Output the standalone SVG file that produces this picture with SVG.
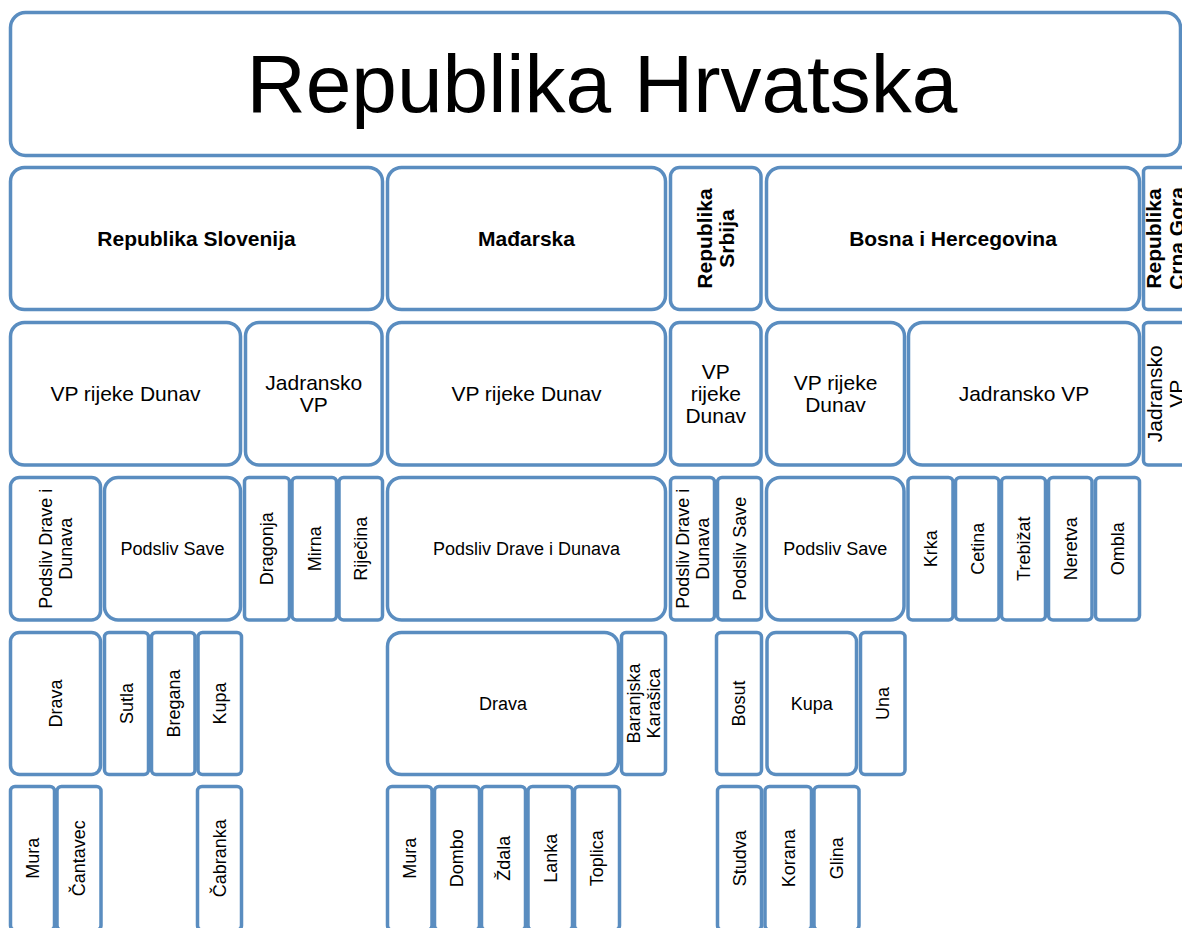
<svg xmlns="http://www.w3.org/2000/svg" width="1182" height="928" viewBox="0 0 1182 928">
<style>
rect{fill:#fff;stroke:#5a8dc0;stroke-width:3.5}
text{font-family:"Liberation Sans",Arial,sans-serif;fill:#000;text-anchor:middle}
.c{font-size:21px;font-weight:bold}
.m{font-size:21px}
.s{font-size:18px}
</style>
<rect width="1182" height="928" style="fill:#fff;stroke:none"/>
<g id="connectors"/>
<g id="hrvatska"><rect x="10.5" y="12.5" width="1170" height="143" rx="15"/><text x="602" y="112" style="font-size:82px">Republika Hrvatska</text></g>
<!-- Row 2 -->
<g id="slovenija"><rect x="10.5" y="167.5" width="372" height="142" rx="14"/><text class="c" x="196.5" y="246">Republika Slovenija</text></g>
<g id="madarska"><rect x="387.5" y="167.5" width="278" height="142" rx="14"/><text class="c" x="526.5" y="246">Mađarska</text></g>
<g id="srbija"><rect x="670.5" y="167.5" width="90.5" height="142" rx="9"/><text class="c" transform="translate(715.75,238.5) rotate(-90)"><tspan x="0" y="-4">Republika</tspan><tspan x="0" y="18.5">Srbija</tspan></text></g>
<g id="bih"><rect x="766.5" y="167.5" width="373" height="142" rx="14"/><text class="c" x="953" y="246">Bosna i Hercegovina</text></g>
<g id="crnagora"><rect x="1143.5" y="167.5" width="43.5" height="142" rx="4.5"/><text class="c" transform="translate(1165.25,238.5) rotate(-90)"><tspan x="0" y="-4">Republika</tspan><tspan x="0" y="18.5">Crna Gora</tspan></text></g>
<!-- Row 3 -->
<g id="slo-dunav"><rect x="10.5" y="322.5" width="230" height="142.5" rx="14"/><text class="m" x="125.5" y="401.25">VP rijeke Dunav</text></g>
<g id="slo-jadran"><rect x="245.5" y="322.5" width="136.5" height="142.5" rx="13.5"/><text class="m"><tspan x="313.75" y="390.25">Jadransko</tspan><tspan x="313.75" y="412.25">VP</tspan></text></g>
<g id="hu-dunav"><rect x="387.5" y="322.5" width="278" height="142.5" rx="14"/><text class="m" x="526.5" y="401.25">VP rijeke Dunav</text></g>
<g id="srb-dunav"><rect x="670.5" y="322.5" width="90.5" height="142.5" rx="9"/><text class="m"><tspan x="715.75" y="379.25">VP</tspan><tspan x="715.75" y="401.25">rijeke</tspan><tspan x="715.75" y="423.25">Dunav</tspan></text></g>
<g id="bih-dunav"><rect x="766.5" y="322.5" width="138" height="142.5" rx="13.8"/><text class="m"><tspan x="835.5" y="390.25">VP rijeke</tspan><tspan x="835.5" y="412.25">Dunav</tspan></text></g>
<g id="bih-jadran"><rect x="908.5" y="322.5" width="231" height="142.5" rx="14"/><text class="m" x="1024" y="401.25">Jadransko VP</text></g>
<g id="mne-jadran"><rect x="1143.5" y="322.5" width="43.5" height="142.5" rx="4.5"/><text class="m" transform="translate(1165.25,393.75) rotate(-90)"><tspan x="0" y="-3.5">Jadransko</tspan><tspan x="0" y="18.5">VP</tspan></text></g>
<!-- Row 4 -->
<g id="slo-podsliv-dd"><rect x="10.5" y="477.5" width="90" height="142.5" rx="9"/><text class="s" transform="translate(55.5,548.75) rotate(-90)"><tspan x="0" y="-3.35">Podsliv Drave i</tspan><tspan x="0" y="16.15">Dunava</tspan></text></g>
<g id="slo-podsliv-save"><rect x="104.5" y="477.5" width="136" height="142.5" rx="13.6"/><text class="s" x="172.5" y="555.15">Podsliv Save</text></g>
<g id="dragonja"><rect x="244.5" y="477.5" width="45" height="142.5" rx="4.5"/><text class="s" transform="translate(267,548.75) rotate(-90)" y="6.4">Dragonja</text></g>
<g id="mirna"><rect x="292" y="477.5" width="44.5" height="142.5" rx="4.5"/><text class="s" transform="translate(314.25,548.75) rotate(-90)" y="6.4">Mirna</text></g>
<g id="rjecina"><rect x="339" y="477.5" width="43.5" height="142.5" rx="4.5"/><text class="s" transform="translate(360.75,548.75) rotate(-90)" y="6.4">Riječina</text></g>
<g id="hu-podsliv-dd"><rect x="387.5" y="477.5" width="278" height="142.5" rx="14"/><text class="s" x="526.5" y="555.15">Podsliv Drave i Dunava</text></g>
<g id="srb-podsliv-dd"><rect x="670.5" y="477.5" width="44" height="142.5" rx="4.5"/><text class="s" transform="translate(692.5,548.75) rotate(-90)"><tspan x="0" y="-3.35">Podsliv Drave i</tspan><tspan x="0" y="16.15">Dunava</tspan></text></g>
<g id="srb-podsliv-save"><rect x="717.5" y="477.5" width="44" height="142.5" rx="4.5"/><text class="s" transform="translate(739.5,548.75) rotate(-90)" y="6.4">Podsliv Save</text></g>
<g id="bih-podsliv-save"><rect x="766.5" y="477.5" width="137.5" height="142.5" rx="13.7"/><text class="s" x="835.25" y="555.15">Podsliv Save</text></g>
<g id="krka"><rect x="908" y="477.5" width="45" height="142.5" rx="4.5"/><text class="s" transform="translate(930.5,548.75) rotate(-90)" y="6.4">Krka</text></g>
<g id="cetina"><rect x="955.5" y="477.5" width="43.5" height="142.5" rx="4.5"/><text class="s" transform="translate(977.25,548.75) rotate(-90)" y="6.4">Cetina</text></g>
<g id="trebizat"><rect x="1001.5" y="477.5" width="44" height="142.5" rx="4.5"/><text class="s" transform="translate(1023.5,548.75) rotate(-90)" y="6.4">Trebižat</text></g>
<g id="neretva"><rect x="1048.5" y="477.5" width="43.5" height="142.5" rx="4.5"/><text class="s" transform="translate(1070.25,548.75) rotate(-90)" y="6.4">Neretva</text></g>
<g id="ombla"><rect x="1095.5" y="477.5" width="44" height="142.5" rx="4.5"/><text class="s" transform="translate(1117.5,548.75) rotate(-90)" y="6.4">Ombla</text></g>
<!-- Row 5 -->
<g id="slo-drava"><rect x="10.5" y="632.5" width="90" height="142" rx="9"/><text class="s" transform="translate(55.5,703.5) rotate(-90)" y="6.4">Drava</text></g>
<g id="sutla"><rect x="104.5" y="632.5" width="44" height="142" rx="4.5"/><text class="s" transform="translate(126.5,703.5) rotate(-90)" y="6.4">Sutla</text></g>
<g id="bregana"><rect x="151.5" y="632.5" width="43.5" height="142" rx="4.5"/><text class="s" transform="translate(173.25,703.5) rotate(-90)" y="6.4">Bregana</text></g>
<g id="slo-kupa"><rect x="198" y="632.5" width="43.5" height="142" rx="4.5"/><text class="s" transform="translate(219.75,703.5) rotate(-90)" y="6.4">Kupa</text></g>
<g id="hu-drava"><rect x="387.5" y="632.5" width="231" height="142" rx="14"/><text class="s" x="503" y="709.9">Drava</text></g>
<g id="karasica"><rect x="621.5" y="632.5" width="44" height="142" rx="4.5"/><text class="s" transform="translate(643.5,703.5) rotate(-90)"><tspan x="0" y="-3.35">Baranjska</tspan><tspan x="0" y="16.15">Karašica</tspan></text></g>
<g id="bosut"><rect x="716.5" y="632.5" width="45" height="142" rx="4.5"/><text class="s" transform="translate(739,703.5) rotate(-90)" y="6.4">Bosut</text></g>
<g id="bih-kupa"><rect x="767" y="632.5" width="89.5" height="142" rx="9"/><text class="s" x="811.75" y="709.9">Kupa</text></g>
<g id="una"><rect x="860.5" y="632.5" width="44.5" height="142" rx="4.5"/><text class="s" transform="translate(882.75,703.5) rotate(-90)" y="6.4">Una</text></g>
<!-- Row 6 -->
<g id="slo-mura"><rect x="10.5" y="786.5" width="44" height="143.5" rx="4.5"/><text class="s" transform="translate(32.5,858.25) rotate(-90)" y="6.4">Mura</text></g>
<g id="cantavec"><rect x="57" y="786.5" width="44" height="143.5" rx="4.5"/><text class="s" transform="translate(79,858.25) rotate(-90)" y="6.4">Čantavec</text></g>
<g id="cabranka"><rect x="197.5" y="786.5" width="44" height="143.5" rx="4.5"/><text class="s" transform="translate(219.5,858.25) rotate(-90)" y="6.4">Čabranka</text></g>
<g id="hu-mura"><rect x="387.5" y="786.5" width="44.5" height="143.5" rx="4.5"/><text class="s" transform="translate(409.75,858.25) rotate(-90)" y="6.4">Mura</text></g>
<g id="dombo"><rect x="434.5" y="786.5" width="45" height="143.5" rx="4.5"/><text class="s" transform="translate(457,858.25) rotate(-90)" y="6.4">Dombo</text></g>
<g id="zdala"><rect x="481.5" y="786.5" width="44" height="143.5" rx="4.5"/><text class="s" transform="translate(503.5,858.25) rotate(-90)" y="6.4">Ždala</text></g>
<g id="lanka"><rect x="528" y="786.5" width="44.5" height="143.5" rx="4.5"/><text class="s" transform="translate(550.25,858.25) rotate(-90)" y="6.4">Lanka</text></g>
<g id="toplica"><rect x="574.5" y="786.5" width="45" height="143.5" rx="4.5"/><text class="s" transform="translate(597,858.25) rotate(-90)" y="6.4">Toplica</text></g>
<g id="studva"><rect x="717.5" y="786.5" width="44" height="143.5" rx="4.5"/><text class="s" transform="translate(739.5,858.25) rotate(-90)" y="6.4">Studva</text></g>
<g id="korana"><rect x="765" y="786.5" width="46.5" height="143.5" rx="4.5"/><text class="s" transform="translate(788.25,858.25) rotate(-90)" y="6.4">Korana</text></g>
<g id="glina"><rect x="814" y="786.5" width="45" height="143.5" rx="4.5"/><text class="s" transform="translate(836.5,858.25) rotate(-90)" y="6.4">Glina</text></g>
</svg>
